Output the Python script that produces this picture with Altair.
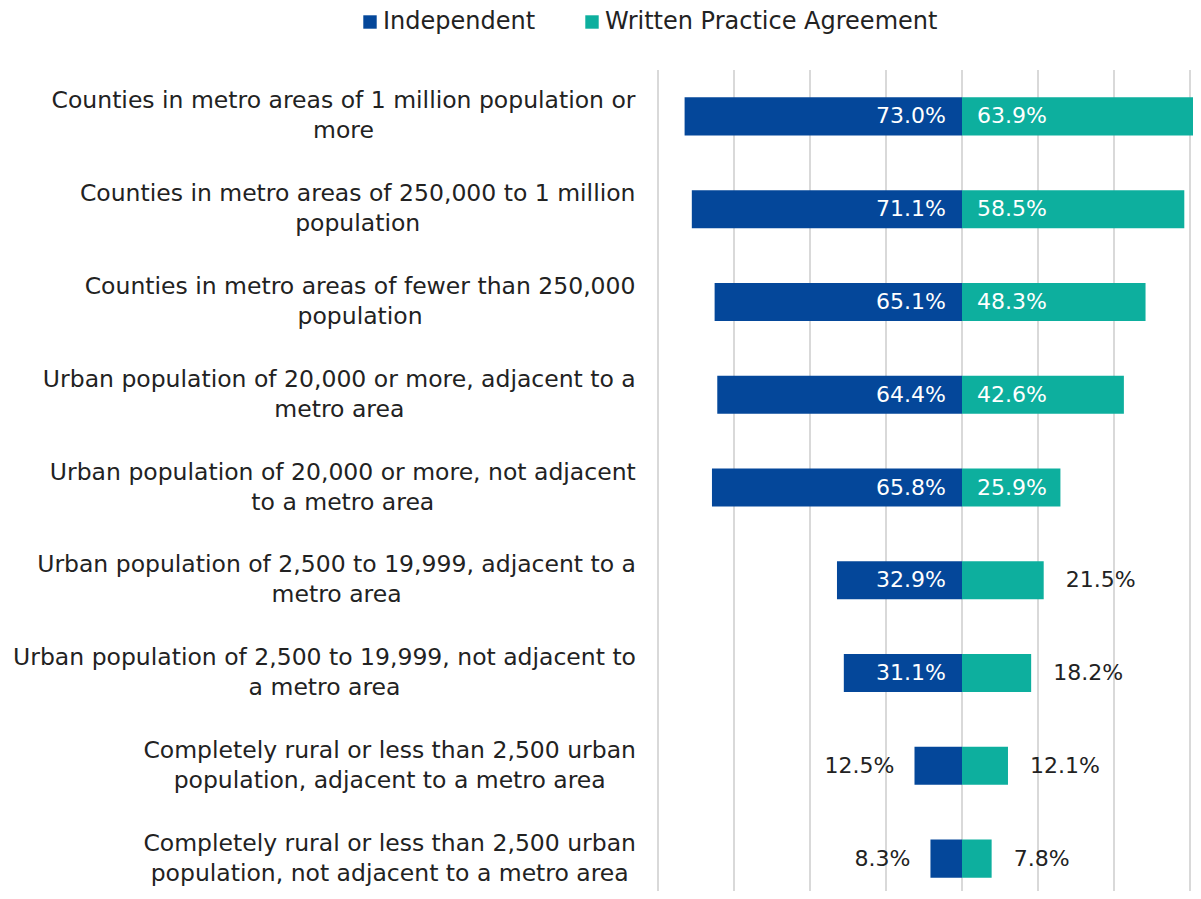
import altair as alt
import pandas as pd

categories = [
    "Counties in metro areas of 1 million population or\nmore",
    "Counties in metro areas of 250,000 to 1 million\npopulation",
    "Counties in metro areas of fewer than 250,000\npopulation",
    "Urban population of 20,000 or more, adjacent to a\nmetro area",
    "Urban population of 20,000 or more, not adjacent\nto a metro area",
    "Urban population of 2,500 to 19,999, adjacent to a\nmetro area",
    "Urban population of 2,500 to 19,999, not adjacent to\na metro area",
    "Completely rural or less than 2,500 urban\npopulation, adjacent to a metro area",
    "Completely rural or less than 2,500 urban\npopulation, not adjacent to a metro area",
]
independent = [73.0, 71.1, 65.1, 64.4, 65.8, 32.9, 31.1, 12.5, 8.3]
wpa = [63.9, 58.5, 48.3, 42.6, 25.9, 21.5, 18.2, 12.1, 7.8]
series = ["Independent", "Written Practice Agreement"]
colors = ["#04479A", "#0DAF9E"]
grid_values = [-80, -60, -40, -20, 0, 20, 40, 60]

FONT = "DejaVu Sans"
CAT_SIZE = 23.5
DARK = "#222222"
X_MIN, X_MAX, PLOT_W = -80, 60, 532

# approximate DejaVu Sans advance widths (units per 2048 em) for label measuring
_W = {" ": 651, ",": 651, ".": 651, "C": 1430, "U": 1499,
      "a": 1255, "b": 1300, "c": 1126, "d": 1300, "e": 1260, "f": 721, "g": 1300,
      "h": 1298, "i": 569, "j": 569, "k": 1186, "l": 569, "m": 1995, "n": 1298,
      "o": 1253, "p": 1300, "q": 1300, "r": 842, "s": 1067, "t": 803, "u": 1298,
      "v": 1212, "w": 1675, "x": 1212, "y": 1212, "z": 1075}


def text_width(s, size):
    return sum(_W.get(ch, 1303) for ch in s) / 2048.0 * size


rows = []
for c, a, b in zip(categories, independent, wpa):
    rows.append({"cat": c, "series": series[0], "value": a, "signed": -a,
                 "label": f"{a:.1f}%", "zero": 0})
    rows.append({"cat": c, "series": series[1], "value": b, "signed": b,
                 "label": f"{b:.1f}%", "zero": 0})
df = pd.DataFrame(rows)

# category label blocks: right edge 22px left of the plot, lines centred in block
px_per_unit = PLOT_W / (X_MAX - X_MIN)
cat_df = pd.DataFrame({
    "cat": categories,
    "cx": [X_MIN + (-22 - max(text_width(line, CAT_SIZE) for line in c.split("\n")) / 2)
           / px_per_unit for c in categories],
})
grid_df = pd.DataFrame({"g": grid_values})

x_scale = alt.Scale(domain=[X_MIN, X_MAX], nice=False, zero=False)
y_enc = alt.Y("cat:N", sort=categories, axis=None,
              scale=alt.Scale(range=[0, 835], paddingInner=0.59, paddingOuter=0.295))

grid = alt.Chart(grid_df).mark_rule(color="#d9d9d9", strokeWidth=2).encode(
    x=alt.X("g:Q", scale=x_scale, axis=None),
    y=alt.value(0), y2=alt.value(845),
)

base = alt.Chart(df)

bars = base.mark_bar().encode(
    x=alt.X("signed:Q", scale=x_scale, axis=None),
    y=y_enc,
    color=alt.Color("series:N", scale=alt.Scale(domain=series, range=colors),
                    legend=alt.Legend(orient="none", legendX=-300, legendY=-60,
                                      direction="horizontal", title=None,
                                      symbolType="square", symbolSize=180,
                                      symbolStrokeWidth=0, labelFontSize=24,
                                      labelFont=FONT, labelColor=DARK, labelOffset=1,
                                      labelLimit=500, columnPadding=44, padding=0)),
)

ind_in = base.transform_filter(
    "datum.series == 'Independent' && datum.value >= 24"
).mark_text(align="right", baseline="middle", dx=-16, color="white",
            fontSize=22, font=FONT).encode(x=alt.X("zero:Q", axis=None), y=y_enc, text="label:N")

ind_out = base.transform_filter(
    "datum.series == 'Independent' && datum.value < 24"
).mark_text(align="right", baseline="middle", dx=-20, color=DARK,
            fontSize=22, font=FONT).encode(x=alt.X("signed:Q", axis=None), y=y_enc, text="label:N")

wpa_in = base.transform_filter(
    "datum.series == 'Written Practice Agreement' && datum.value >= 24"
).mark_text(align="left", baseline="middle", dx=15, color="white",
            fontSize=22, font=FONT).encode(x=alt.X("zero:Q", axis=None), y=y_enc, text="label:N")

wpa_out = base.transform_filter(
    "datum.series == 'Written Practice Agreement' && datum.value < 24"
).mark_text(align="left", baseline="middle", dx=22, color=DARK,
            fontSize=22, font=FONT).encode(x=alt.X("signed:Q", axis=None), y=y_enc, text="label:N")

cat_text = alt.Chart(cat_df).mark_text(
    align="center", baseline="middle", lineBreak="\n", lineHeight=30, dy=-15,
    fontSize=CAT_SIZE, font=FONT, color=DARK
).encode(x=alt.X("cx:Q", axis=None), y=y_enc, text="cat:N")

chart = alt.layer(grid, bars, ind_in, ind_out, wpa_in, wpa_out, cat_text).properties(
    width=PLOT_W, height=821,
    autosize=alt.AutoSizeParams(type="none"),
    padding={"left": 650, "top": 62, "right": 3, "bottom": 0},
).configure(font=FONT).configure_view(strokeWidth=0, stroke="transparent")

chart.save("out.html", embed_options={"renderer": "svg", "actions": False})
